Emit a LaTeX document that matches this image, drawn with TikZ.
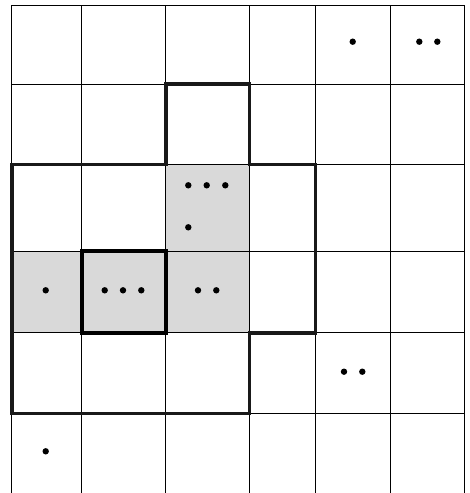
\documentclass[tikz,border=0pt]{standalone}
\begin{document}
\begin{tikzpicture}[x=1bp, y=-1bp, line join=miter]
  \useasboundingbox (0,0) rectangle (470,493);
  % shaded cells
  \fill[black!15] (165.7,164.7) rectangle (249.3,251.3);
  \fill[black!15] (11.7,251.3) rectangle (249.3,332.7);
  % grid
  \foreach \x in {11.7, 81.7, 165.7, 249.3, 315.3, 390.3, 464.3}
    \draw[line width=1.2bp] (\x,5.3) -- (\x,493);
  \foreach \y in {5.3, 84.3, 164.7, 251.3, 332.7, 413.3}
    \draw[line width=1.2bp] (11.7,\y) -- (464.3,\y);
  % outlines
  \draw[line width=3.6bp, black!90] (11.7,164.7) -- (165.7,164.7) -- (165.7,84.3)
    -- (249.3,84.3) -- (249.3,164.7) -- (315.3,164.7) -- (315.3,332.7)
    -- (249.3,332.7) -- (249.3,413.3) -- (11.7,413.3) -- cycle;
  \draw[line width=4bp] (81.7,251.3) rectangle (165.7,332.7);
  % dots
  \foreach \x/\y in {352.7/41.7, 419.3/41.7, 437.3/41.7,
                     188.3/185.3, 206.7/185.3, 225.3/185.3, 188.3/227.3,
                     45.7/290.3, 104.7/290.3, 123/290.3, 141.3/290.3,
                     198/290.3, 216.3/290.3,
                     344/371.7, 362.3/371.7, 45.7/451.3}
    \fill (\x,\y) circle (3.2bp);
\end{tikzpicture}
\end{document}
